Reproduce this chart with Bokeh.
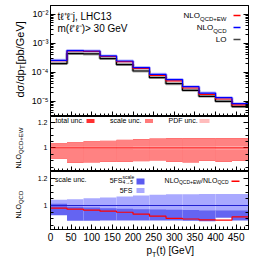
import math
from bokeh.plotting import figure
from bokeh.layouts import column, row
from bokeh.models import Range1d, FixedTicker, LinearAxis, LogAxis, Label, Span, LinearScale
from bokeh.core.properties import value
from bokeh.embed import file_html
from bokeh.resources import INLINE

FONT = "Liberation Sans"

# ---------------- data ----------------
bin_edges = [0, 40, 80, 120, 160, 200, 240, 280, 320, 360, 400, 440, 480]

lo         = [2.00e-4, 4.40e-4, 4.30e-4, 2.97e-4, 1.84e-4, 1.11e-4, 6.60e-5, 4.07e-5, 2.39e-5, 1.49e-5, 1.00e-5, 6.60e-6]
nlo_qcd    = [2.59e-4, 5.60e-4, 5.42e-4, 3.65e-4, 2.45e-4, 1.45e-4, 8.50e-5, 5.60e-5, 3.20e-5, 1.93e-5, 1.34e-5, 8.30e-6]
nlo_qcd_ew = [2.54e-4, 5.45e-4, 5.23e-4, 3.50e-4, 2.33e-4, 1.36e-4, 7.83e-5, 5.07e-5, 2.88e-5, 1.73e-5, 1.20e-5, 7.60e-6]

# middle panel: uncertainties of NLO_QCD+EW (ratio)
total_up = [1.036, 1.044, 1.052, 1.056, 1.064, 1.069, 1.074, 1.077, 1.077, 1.078, 1.078, 1.078]
total_dn = [0.915, 0.882, 0.885, 0.890, 0.890, 0.895, 0.902, 0.890, 0.885, 0.898, 0.890, 0.898]
scale_up = [1.034, 1.042, 1.050, 1.054, 1.062, 1.067, 1.072, 1.075, 1.075, 1.076, 1.076, 1.076]
scale_dn = [0.917, 0.884, 0.887, 0.892, 0.892, 0.897, 0.904, 0.892, 0.887, 0.900, 0.892, 0.900]
pdf_up   = [1.008, 1.008, 1.009, 1.009, 1.009, 1.010, 1.010, 1.010, 1.011, 1.011, 1.012, 1.012]
pdf_dn   = [0.992, 0.992, 0.991, 0.991, 0.991, 0.990, 0.990, 0.990, 0.989, 0.989, 0.988, 0.988]

# bottom panel: NLO_QCD ratio bands and EW/QCD ratio
fs5_up   = [1.042, 1.047, 1.054, 1.059, 1.067, 1.074, 1.079, 1.084, 1.084, 1.085, 1.085, 1.085]
fs5_dn   = [0.960, 0.962, 0.963, 0.964, 0.965, 0.965, 0.965, 0.965, 0.965, 0.965, 0.965, 0.965]
fs45_up  = [1.012, 0.990, 0.985, 0.980, 0.975, 0.972, 0.970, 0.968, 0.966, 0.965, 0.965, 0.965]
fs45_dn  = [0.928, 0.887, 0.887, 0.888, 0.888, 0.888, 0.888, 0.888, 0.886, 0.884, 0.909, 0.888]
ew_over_qcd = [0.980, 0.973, 0.965, 0.958, 0.950, 0.936, 0.921, 0.905, 0.900, 0.894, 0.892, 0.915]

x_ticks = [0, 50, 100, 150, 200, 250, 300, 350, 400, 450]
decades = [1e-6, 1e-5, 1e-4, 1e-3, 1e-2, 1e-1]
decade_labels = {1e-5: "10⁻⁵", 1e-4: "10⁻⁴", 1e-3: "10⁻³", 1e-2: "10⁻²"}

# ---------------- helpers ----------------
W = {' ': 278, '(': 333, ')': 333, '+': 584, ',': 278, '.': 278, '/': 278, '>': 584,
     '[': 278, ']': 278, 'C': 722, 'D': 722, 'E': 667, 'F': 611, 'G': 778, 'H': 722,
     'L': 556, 'N': 722, 'O': 778, 'P': 667, 'Q': 778, 'S': 667, 'T': 611, 'V': 667, 'W': 944,
     'a': 556, 'b': 556, 'c': 500, 'd': 556, 'e': 556, 'l': 222, 'n': 556, 'o': 556, 'p': 556,
     's': 500, 't': 278, 'u': 556, 'σ': 600, '→': 1000}
DESC = 0.21  # descent (fraction of font size) between baseline and box bottom
LEFT = 20    # panel left border (the label strip sits left of it)
FW = 198     # frame width


def tw(s, size):
    return sum(W.get(ch, 556) for ch in s) * size / 1000.0


def mkfig(h, yr, log=False, bottom=0):
    p = figure(frame_width=FW, frame_height=h, x_range=Range1d(0, 480), y_range=yr,
               y_axis_type="log" if log else "linear", toolbar_location=None,
               output_backend="svg", min_border_left=LEFT, min_border_right=8,
               min_border_top=0, min_border_bottom=bottom)
    p.extra_x_ranges = {"px": Range1d(0, FW)}
    p.extra_y_ranges = {"px": Range1d(0, h)}
    p.extra_x_scales = {"px": LinearScale()}
    p.extra_y_scales = {"px": LinearScale()}
    p.grid.visible = False
    p.outline_line_color = "black"
    p.outline_line_alpha = 1
    p.background_fill_color = "white"
    p.border_fill_color = "white"
    return p


def plain(w, h):
    p = figure(frame_width=w, frame_height=h, x_range=Range1d(0, w), y_range=Range1d(0, h),
               toolbar_location=None, output_backend="svg", x_axis_location=None,
               y_axis_location=None, min_border=0)
    p.grid.visible = False
    p.outline_line_color = None
    p.background_fill_color = "white"
    p.border_fill_color = "white"
    return p


def style(ax, size=None, standoff=3, tin=5, mtin=3, hide_ticks=None):
    ax.major_tick_in = tin
    ax.major_tick_out = 0
    ax.minor_tick_in = mtin
    ax.minor_tick_out = 0
    ax.axis_line_color = "black"
    ax.major_tick_line_color = "black"
    ax.minor_tick_line_color = "black"
    ax.major_label_text_font = FONT
    ax.major_label_text_color = "black"
    if size is None:
        ax.major_label_text_font_size = "1px"
        ax.major_label_text_alpha = 0
        ax.major_label_standoff = 0
        ax.major_label_overrides = {t: "" for t in hide_ticks}
    else:
        ax.major_label_text_font_size = size
        ax.major_label_standoff = standoff


def txt(p, text, x, y, size, align="left", color="black"):
    # (x, y): baseline point in frame pixels (y upwards)
    p.add_layout(Label(x=x, y=y - DESC * size, x_units="screen", y_units="screen", text=text,
                       text_font=FONT, text_font_size=f"{int(size)}px", text_align=align,
                       text_baseline="bottom", text_color=color))


def gtxt(p, text, x, y, size, rot=False):
    # text glyph in a plain strip figure, (x, y) = baseline start in its pixels
    if rot:
        x = x + DESC * size
    else:
        y = y - DESC * size
    p.text(x=[x], y=[y], text=[text], angle=math.pi / 2 if rot else 0,
           text_font=value(FONT), text_font_size=value(f"{int(size)}px"),
           text_align="left", text_baseline="bottom", text_color="black")


def box(p, x0, x1, y0, y1, color):
    # legend swatch, positioned in frame pixels through the "px" ranges
    p.quad(left=[x0], right=[x1], bottom=[y0], top=[y1], x_range_name="px",
           y_range_name="px", fill_color=color, line_color=None)


def ext(v):
    return list(v) + [v[-1]]


xtick = FixedTicker(ticks=x_ticks, minor_ticks=list(range(0, 481, 10)))
left_edges = bin_edges[:-1]
right_edges = bin_edges[1:]
FL = 48  # absolute x of frame left

# ---------------- main panel ----------------
H1, H2, H3 = 111, 55, 58
p1 = mkfig(H1, Range1d(3e-6, 2e-2), log=True)
p1.min_border_top = 5
ytick = FixedTicker(ticks=decades,
                    minor_ticks=[m * 10.0 ** e for e in range(-6, -1) for m in range(2, 10)])
p1.yaxis.ticker = ytick
p1.yaxis.major_label_overrides = decade_labels
style(p1.yaxis[0], "9px", 2)
p1.xaxis.ticker = xtick
style(p1.xaxis[0], hide_ticks=x_ticks)
ra = LogAxis(ticker=ytick)
style(ra, hide_ticks=decades)
p1.add_layout(ra, "right")

p1.quad(left=left_edges, right=right_edges, bottom=lo, top=nlo_qcd_ew,
        fill_color="#f6d2d2", line_color=None)
p1.step(bin_edges, ext(nlo_qcd), mode="after", line_color="#b8b8ff", line_width=3)
p1.step(bin_edges, ext(lo), mode="after", line_color="#a8a8a8", line_width=3)
p1.step(bin_edges, ext(lo), mode="after", line_color="black", line_width=1.2)
p1.step(bin_edges, ext(nlo_qcd_ew), mode="after", line_color="#ff0000", line_width=1.2)
p1.step(bin_edges, ext(nlo_qcd), mode="after", line_color="#0000ff", line_width=1.2)

FB1 = 5 + H1  # absolute y of frame bottom
txt(p1, "tℓ⁺ℓ⁻j, LHC13", 55 - FL, FB1 - 19, 10)
txt(p1, "m(ℓ⁺ℓ⁻)> 30 GeV", 55 - FL, FB1 - 31, 10)

xr = 224 - FL
txt(p1, "QCD+EW", xr, FB1 - 20, 6, align="right")
txt(p1, "NLO", xr - tw("QCD+EW", 6), FB1 - 18, 8, align="right")
txt(p1, "QCD", xr, FB1 - 32, 6, align="right")
txt(p1, "NLO", xr - tw("QCD", 6), FB1 - 30, 8, align="right")
txt(p1, "LO", xr, FB1 - 42, 8, align="right")
box(p1, 231 - FL, 238 - FL, FB1 - 15.8, FB1 - 14.2, "#ff0000")
box(p1, 231 - FL, 238 - FL, FB1 - 27.8, FB1 - 26.2, "#0000ff")
box(p1, 231 - FL, 238 - FL, FB1 - 39.8, FB1 - 38.2, "#444444")

# ---------------- middle panel ----------------
ratio_ticks = [0.8, 1.0, 1.2]
ratio_tick = FixedTicker(ticks=ratio_ticks, minor_ticks=[0.8 + 0.05 * i for i in range(10)])
ratio_labels = {0.8: "", 1.0: "1", 1.2: "1.2"}

p2 = mkfig(H2, Range1d(0.815, 1.246))
p2.yaxis.ticker = ratio_tick
p2.yaxis.major_label_overrides = ratio_labels
style(p2.yaxis[0], "7px", 3)
p2.xaxis.ticker = xtick
style(p2.xaxis[0], hide_ticks=x_ticks)
ra2 = LinearAxis(ticker=ratio_tick)
style(ra2, hide_ticks=ratio_ticks)
p2.add_layout(ra2, "right")

p2.quad(left=left_edges, right=right_edges, bottom=total_dn, top=total_up,
        fill_color="#ff4040", line_color=None)
p2.quad(left=left_edges, right=right_edges, bottom=scale_dn, top=scale_up,
        fill_color="#ff8282", line_color=None)
p2.quad(left=left_edges, right=right_edges, bottom=pdf_dn, top=pdf_up,
        fill_color="#ffb4b4", line_color=None)
p2.add_layout(Span(location=1.0, dimension="width", line_color="#ff0000", line_width=1))

FB2 = FB1 + 1 + H2
txt(p2, "total unc.", 53 - FL, FB2 - 123.5, 7)
box(p2, 84 - FL, 92 - FL, FB2 - 123.5, FB2 - 119.5, "#ff3030")
txt(p2, "scale unc.", 107.5 - FL, FB2 - 123.5, 7)
box(p2, 142.5 - FL, 150.5 - FL, FB2 - 123.5, FB2 - 119.5, "#ff7a7a")
txt(p2, "PDF unc.", 166 - FL, FB2 - 123.5, 7)
box(p2, 197 - FL, 207 - FL, FB2 - 123.5, FB2 - 119.5, "#ffbcbc")

# ---------------- bottom panel ----------------
p3 = mkfig(H3, Range1d(0.822, 1.252), bottom=16)
p3.yaxis.ticker = ratio_tick
p3.yaxis.major_label_overrides = ratio_labels
style(p3.yaxis[0], "7px", 3)
p3.xaxis.ticker = xtick
style(p3.xaxis[0], "10px", 3)
ra3 = LinearAxis(ticker=ratio_tick)
style(ra3, hide_ticks=ratio_ticks)
p3.add_layout(ra3, "right")

p3.quad(left=left_edges, right=right_edges, bottom=fs5_dn, top=fs5_up,
        fill_color="#a9a9ff", line_color=None)
p3.quad(left=left_edges, right=right_edges, bottom=fs45_dn, top=fs45_up,
        fill_color="#6464f2", line_color=None)
p3.add_layout(Span(location=1.0, dimension="width", line_color="#2020d0", line_width=1))
p3.step(bin_edges, ext(ew_over_qcd), mode="after", line_color="#ff0000", line_width=1.2)

FB3 = FB2 + 1 + H3
txt(p3, "scale unc.", 52.5 - FL, FB3 - 183, 7)
txt(p3, "5FS", 120 - FL, FB3 - 184, 7, align="right")
txt(p3, "scale", 120 - FL, FB3 - 180, 5)
txt(p3, "4→5", 120 - FL, FB3 - 185, 5)
box(p3, 134 - FL, 142 - FL, FB3 - 186, FB3 - 180, "#5a5af0")
txt(p3, "5FS", 130 - FL, FB3 - 194.5, 7, align="right")
box(p3, 134 - FL, 142 - FL, FB3 - 194.5, FB3 - 189.5, "#a9a9ff")

xe = 226 - FL
s1 = tw("QCD", 5)
s2 = s1 + tw("/NLO", 7)
s3 = s2 + tw("QCD+EW", 5)
txt(p3, "QCD", xe, FB3 - 185.5, 5, align="right")
txt(p3, "/NLO", xe - s1, FB3 - 184, 7, align="right")
txt(p3, "QCD+EW", xe - s2, FB3 - 185.5, 5, align="right")
txt(p3, "NLO", xe - s3, FB3 - 184, 7, align="right")
box(p3, 229 - FL, 237 - FL, FB3 - 183.5, FB3 - 181.9, "#ff0000")

# ---------------- label strip (rotated y titles) ----------------
SW = FL - LEFT       # strip width
SH = 240
strip = plain(SW, SH)
y0 = SH - 97
gtxt(strip, "dσ/dp", 23.0, y0, 11, rot=True)
gtxt(strip, "T", 25.0, y0 + tw("dσ/dp", 11), 8, rot=True)
gtxt(strip, " [pb/GeV]", 23.0, y0 + tw("dσ/dp", 11) + tw("T", 8), 11, rot=True)
gtxt(strip, "NLO", 20, SH - 168, 7, rot=True)
gtxt(strip, "QCD+EW", 22.5, SH - 168 + tw("NLO", 7), 6, rot=True)
gtxt(strip, "NLO", 20, SH - 218, 7, rot=True)
gtxt(strip, "QCD", 22.5, SH - 218 + tw("NLO", 7), 6, rot=True)

# ---------------- x title strip ----------------
XW, XH = LEFT + FW + 8, 17
xfig = plain(XW, XH)
XTOP = FB3 + 16      # absolute y of strip top
xt = 124 - SW
base = XTOP + XH - 255.5
gtxt(xfig, "p", xt, base, 10)
gtxt(xfig, "T", xt + tw("p", 10), base - 2.5, 7)
gtxt(xfig, "(t) [GeV]", xt + tw("p", 10) + tw("T", 7), base, 10)

layout = row(strip, column(p1, p2, p3, xfig, spacing=0), spacing=0)
open("out.html", "w").write(file_html(layout, INLINE))
